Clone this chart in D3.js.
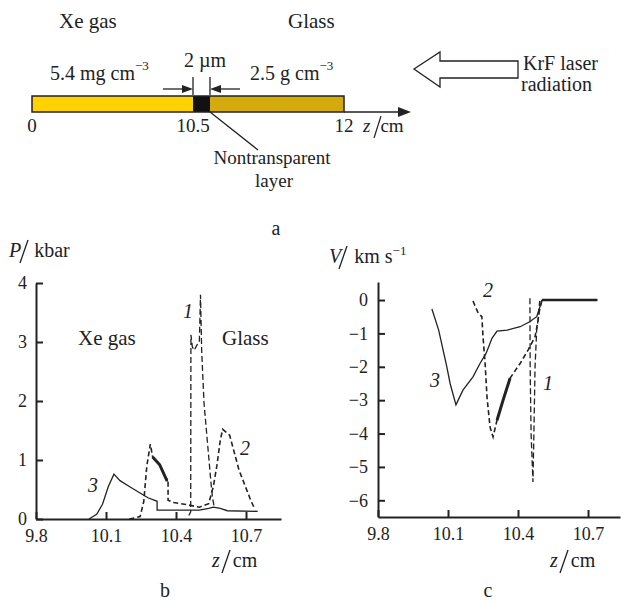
<!DOCTYPE html>
<html>
  <head>
    <meta charset="UTF-8" />
    <style>
      body { margin: 0; background: #fff; }
      svg text { font-family: 'Times New Roman', 'Liberation Serif', 'DejaVu Serif', serif; fill: #222; }
      .axis path, .axis line { stroke: #222; stroke-width: 2px; }
      .axis text { font-size: 18px; font-family: 'Times New Roman', 'Liberation Serif', 'DejaVu Serif', serif; fill: #222; }
    </style>
  </head>
  <body>
    <svg width="622" height="601" font-family="Liberation Serif"></svg>

    <script src="https://d3js.org/d3.v7.min.js"></script>

    <script>
      // schematic layers (panel a), positions in cm along z
      const layers = [
        { name: 'Xe', from: 0, to: 10.5, color: '#ffd200' },
        { name: 'layer', from: 10.5, to: 10.6, color: '#111' },
        { name: 'Glass', from: 10.6, to: 12, color: '#d4ab0c' }
      ]
      const barTicks = [0, 10.5, 12]

      // panel b: pressure P (kbar) vs z (cm)
      const pTicks = [0, 1, 2, 3, 4]
      const zTicks = [9.8, 10.1, 10.4, 10.7]
      const p1 = [[10.455, 0.06], [10.463, 0.12], [10.464, 3.12], [10.47, 2.92], [10.478, 2.86],
        [10.49, 2.95], [10.5, 3.0], [10.505, 3.8], [10.51, 2.86], [10.52, 1.97],
        [10.535, 1.29], [10.55, 0.61], [10.556, 0.37], [10.565, 0.18]]
      const p2 = [[10.2, 0], [10.246, 0.04], [10.262, 0.3], [10.275, 0.9], [10.29, 1.27],
        [10.3, 1.05], [10.33, 0.92], [10.36, 0.66], [10.366, 0.66], [10.366, 0.32], [10.39, 0.28],
        [10.45, 0.24], [10.5, 0.2], [10.54, 0.26], [10.56, 0.55], [10.575, 0.9],
        [10.59, 1.34], [10.6, 1.52], [10.63, 1.42], [10.67, 0.83], [10.72, 0.32], [10.735, 0.19]]
      const p3 = [[10.027, 0], [10.06, 0.08], [10.085, 0.25], [10.11, 0.55], [10.134, 0.76],
        [10.16, 0.65], [10.2, 0.55], [10.246, 0.44], [10.28, 0.36], [10.319, 0.3],
        [10.319, 0.15], [10.5, 0.15], [10.54, 0.18], [10.56, 0.2], [10.59, 0.18],
        [10.62, 0.14], [10.75, 0.13]]

      // panel c: velocity V (km/s) vs z (cm)
      const vTicks = [0, -1, -2, -3, -4, -5, -6]
      const v1 = [[10.451, 0.05], [10.452, -2.0], [10.456, -4.0], [10.464, -5.45], [10.468, -4.0],
        [10.473, -2.0], [10.48, -0.9], [10.49, -0.4], [10.503, 0], [10.74, 0]]
      const v2 = [[10.207, -0.03], [10.23, -0.4], [10.245, -0.5], [10.25, -1.1], [10.259, -1.9],
        [10.267, -2.9], [10.28, -3.8], [10.293, -4.1], [10.31, -3.6], [10.336, -3.0],
        [10.366, -2.34], [10.409, -1.9], [10.443, -1.5], [10.473, -1.1], [10.486, -0.6], [10.494, 0]]
      const v3 = [[10.031, -0.27], [10.06, -0.9], [10.079, -1.5], [10.095, -2.0], [10.109, -2.5],
        [10.134, -3.14], [10.164, -2.7], [10.207, -2.3], [10.237, -1.9], [10.263, -1.6],
        [10.289, -1.14], [10.31, -0.93], [10.353, -0.9], [10.409, -0.8], [10.45, -0.65],
        [10.48, -0.5], [10.494, -0.2], [10.503, 0], [10.74, 0]]

      let svg = d3.select('svg')
      const intFmt = d => (d < 0 ? '−' + Math.abs(d) : String(d))

      // helper: italic var / unit label like "P / kbar"
      function unitLabel(g, x, y, v, unit, sup) {
        let t = g.append('text').attr('x', x).attr('y', y).style('font-size', '20px')
        t.append('tspan').style('font-style', 'italic').text(v)
        t.append('tspan').attr('dx', 13).text(unit)
        if (sup) t.append('tspan').attr('dy', -8).style('font-size', '13px').text(sup)
        let w = v === 'P' ? 12 : 11
        g.append('line')
          .attr('x1', x + w + 7).attr('y1', y - 17)
          .attr('x2', x + w - 1).attr('y2', y + 6)
          .attr('stroke', '#222').attr('stroke-width', 1.3)
      }

      // ---------- panel a ----------
      let a = svg.append('g')
      let xa = d3.scaleLinear().domain([0, 10.5, 10.6, 12]).range([32, 193, 210, 344])

      a.selectAll('rect').data(layers).enter().append('rect')
        .attr('x', d => xa(d.from))
        .attr('width', d => xa(d.to) - xa(d.from))
        .attr('y', 96).attr('height', 16)
        .attr('fill', d => d.color)
      a.append('rect').attr('x', xa(0)).attr('y', 96).attr('width', xa(12) - xa(0)).attr('height', 16)
        .attr('fill', 'none').attr('stroke', '#222').attr('stroke-width', 1.5)
      a.append('line').attr('x1', xa(12)).attr('x2', 404).attr('y1', 112).attr('y2', 112)
        .attr('stroke', '#222').attr('stroke-width', 1.5)
      a.append('path').attr('d', 'M398,107 L411,112 L398,117 Z').attr('fill', '#222')

      a.selectAll('.bt').data(barTicks).enter().append('text')
        .attr('x', d => xa(d)).attr('y', 132).attr('text-anchor', 'middle')
        .style('font-size', '19px').text(d => d)
      let zc = a.append('text').attr('x', 363).attr('y', 132).style('font-size', '19px')
      zc.append('tspan').style('font-style', 'italic').text('z')
      zc.append('tspan').attr('dx', 10).text('cm')
      a.append('line').attr('x1', 381).attr('y1', 116).attr('x2', 374).attr('y2', 138)
        .attr('stroke', '#222').attr('stroke-width', 1.2)

      a.append('text').attr('x', 59).attr('y', 28).style('font-size', '21px').text('Xe gas')
      a.append('text').attr('x', 288).attr('y', 28).style('font-size', '21px').text('Glass')
      let t1 = a.append('text').attr('x', 50).attr('y', 80).style('font-size', '20px')
      t1.append('tspan').text('5.4 mg cm')
      t1.append('tspan').attr('dy', -10).style('font-size', '13px').text('−3')
      let t2 = a.append('text').attr('x', 250).attr('y', 80).style('font-size', '20px')
      t2.append('tspan').text('2.5 g cm')
      t2.append('tspan').attr('dy', -10).style('font-size', '13px').text('−3')
      a.append('text').attr('x', 205).attr('y', 67).attr('text-anchor', 'middle')
        .style('font-size', '20px').text('2 µm')

      // dimension arrows
      a.append('line').attr('x1', 163).attr('x2', 190).attr('y1', 89).attr('y2', 89).attr('stroke', '#222').attr('stroke-width', 1.3)
      a.append('path').attr('d', 'M182,85 L193,89 L182,93 Z').attr('fill', '#222')
      a.append('line').attr('x1', 213).attr('x2', 240).attr('y1', 89).attr('y2', 89).attr('stroke', '#222').attr('stroke-width', 1.3)
      a.append('path').attr('d', 'M221,85 L210,89 L221,93 Z').attr('fill', '#222')
      a.append('line').attr('x1', 193).attr('x2', 193).attr('y1', 77).attr('y2', 95).attr('stroke', '#222').attr('stroke-width', 1.3)
      a.append('line').attr('x1', 210).attr('x2', 210).attr('y1', 77).attr('y2', 95).attr('stroke', '#222').attr('stroke-width', 1.3)

      // leader to nontransparent layer
      a.append('line').attr('x1', 210).attr('y1', 112).attr('x2', 258).attr('y2', 150)
        .attr('stroke', '#222').attr('stroke-width', 1.3)
      a.append('text').attr('x', 272).attr('y', 164).attr('text-anchor', 'middle')
        .style('font-size', '19px').text('Nontransparent')
      a.append('text').attr('x', 274).attr('y', 187).attr('text-anchor', 'middle')
        .style('font-size', '19px').text('layer')

      // laser arrow
      a.append('path').attr('d', 'M414,69 L440,52 L440,61 L518,61 L518,78 L440,78 L440,87 Z')
        .attr('fill', '#fff').attr('stroke', '#222').attr('stroke-width', 1.3)
      a.append('text').attr('x', 523).attr('y', 70).style('font-size', '20px').text('KrF laser')
      a.append('text').attr('x', 521).attr('y', 91).style('font-size', '20px').text('radiation')
      a.append('text').attr('x', 276).attr('y', 235).attr('text-anchor', 'middle')
        .style('font-size', '20px').text('a')

      // ---------- panel b ----------
      let b = svg.append('g')
      let xb = d3.scaleLinear().domain([9.8, 10.85]).range([36, 281])
      let yb = d3.scaleLinear().domain([0, 4]).range([519, 283])

      b.append('g').attr('class', 'axis').attr('transform', 'translate(0,519)')
        .call(d3.axisBottom(xb).tickValues(zTicks).tickSize(-7).tickSizeOuter(0).tickPadding(10).tickFormat(d3.format('.1f')))
      b.append('g').attr('class', 'axis').attr('transform', 'translate(36,0)')
        .call(d3.axisLeft(yb).tickValues(pTicks).tickSize(-7).tickSizeOuter(0).tickPadding(9).tickFormat(intFmt))

      let lineB = d3.line().x(d => xb(d[0])).y(d => yb(d[1]))
      b.append('path').attr('d', lineB(p3)).attr('fill', 'none').attr('stroke', '#222').attr('stroke-width', 1.3)
      b.append('path').attr('d', lineB(p2)).attr('fill', 'none').attr('stroke', '#222')
        .attr('stroke-width', 1.6).attr('stroke-dasharray', '5,3')
      b.append('path').attr('d', lineB(p2.filter(d => d[0] >= 10.3 && d[0] <= 10.366 && d[1] > 0.5)))
        .attr('fill', 'none').attr('stroke', '#222').attr('stroke-width', 3)
      b.append('path').attr('d', lineB(p1)).attr('fill', 'none').attr('stroke', '#222')
        .attr('stroke-width', 1.3).attr('stroke-dasharray', '6,3')

      b.append('text').attr('x', 78).attr('y', 345).style('font-size', '21px').text('Xe gas')
      b.append('text').attr('x', 222).attr('y', 345).style('font-size', '21px').text('Glass')
      b.append('text').attr('x', 188).attr('y', 318).attr('text-anchor', 'middle').style('font-size', '20px').style('font-style', 'italic').text('1')
      b.append('text').attr('x', 245).attr('y', 455).attr('text-anchor', 'middle').style('font-size', '20px').style('font-style', 'italic').text('2')
      b.append('text').attr('x', 93).attr('y', 492).attr('text-anchor', 'middle').style('font-size', '20px').style('font-style', 'italic').text('3')

      unitLabel(b, 9, 257, 'P', 'kbar')
      unitLabel(b, 212, 567, 'z', 'cm')
      b.append('text').attr('x', 165).attr('y', 597).attr('text-anchor', 'middle').style('font-size', '20px').text('b')

      // ---------- panel c ----------
      let c = svg.append('g')
      let xcs = d3.scaleLinear().domain([9.8, 10.837]).range([378, 620])
      let ycs = d3.scaleLinear().domain([-6.5, 0.54]).range([517, 282])

      c.append('g').attr('class', 'axis').attr('transform', 'translate(0,517)')
        .call(d3.axisBottom(xcs).tickValues(zTicks).tickSize(-7).tickSizeOuter(0).tickPadding(10).tickFormat(d3.format('.1f')))
      c.append('g').attr('class', 'axis').attr('transform', 'translate(378,0)')
        .call(d3.axisLeft(ycs).tickValues(vTicks).tickSize(-7).tickSizeOuter(0).tickPadding(10).tickFormat(intFmt))

      let lineC = d3.line().x(d => xcs(d[0])).y(d => ycs(d[1]))
      c.append('path').attr('d', lineC(v3)).attr('fill', 'none').attr('stroke', '#222').attr('stroke-width', 1.3)
      c.append('path').attr('d', lineC(v3.filter(d => d[1] === 0))).attr('fill', 'none').attr('stroke', '#222').attr('stroke-width', 2.4)
      c.append('path').attr('d', lineC(v2)).attr('fill', 'none').attr('stroke', '#222')
        .attr('stroke-width', 1.6).attr('stroke-dasharray', '5,3')
      c.append('path').attr('d', lineC(v2.filter(d => d[0] >= 10.3 && d[0] <= 10.37)))
        .attr('fill', 'none').attr('stroke', '#222').attr('stroke-width', 3)
      c.append('path').attr('d', lineC(v1)).attr('fill', 'none').attr('stroke', '#222')
        .attr('stroke-width', 1.3).attr('stroke-dasharray', '6,3')

      c.append('text').attr('x', 488).attr('y', 297).attr('text-anchor', 'middle').style('font-size', '20px').style('font-style', 'italic').text('2')
      c.append('text').attr('x', 435).attr('y', 387).attr('text-anchor', 'middle').style('font-size', '20px').style('font-style', 'italic').text('3')
      c.append('text').attr('x', 548).attr('y', 390).attr('text-anchor', 'middle').style('font-size', '20px').style('font-style', 'italic').text('1')

      unitLabel(c, 329, 263, 'V', 'km s', '−1')
      unitLabel(c, 550, 567, 'z', 'cm')
      c.append('text').attr('x', 488).attr('y', 597).attr('text-anchor', 'middle').style('font-size', '20px').text('c')
    </script>
  </body>
</html>
